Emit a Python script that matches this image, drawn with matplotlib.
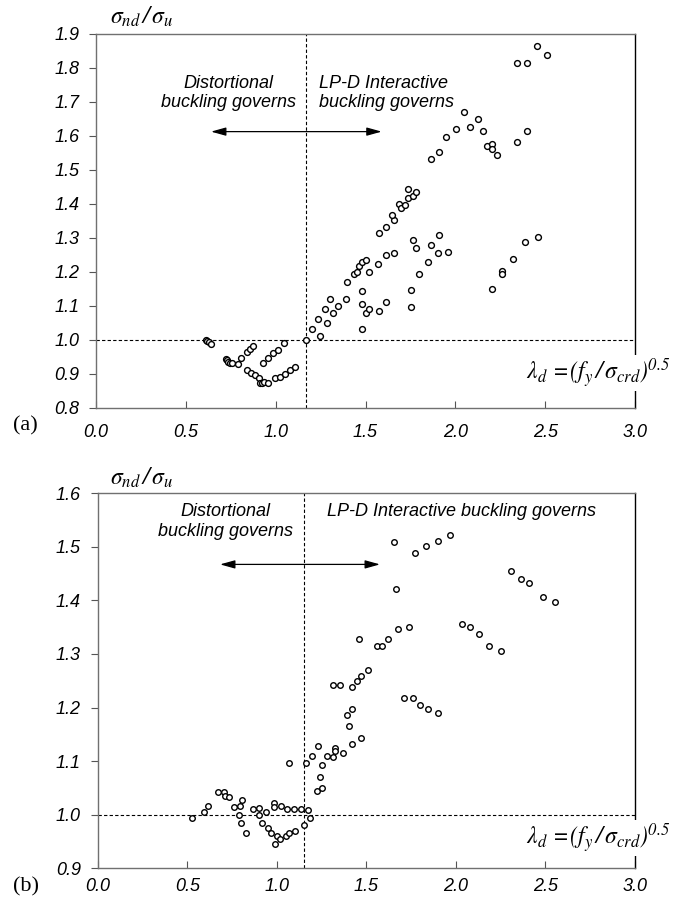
import matplotlib
matplotlib.use('Agg')
import matplotlib.pyplot as plt

plt.rcParams['font.family'] = ['Liberation Sans', 'DejaVu Sans']
plt.rcParams['font.style'] = 'italic'
plt.rcParams['mathtext.fontset'] = 'stix'

# (a) lambda_d and sigma_nd/sigma_u
a_x = [0.61, 0.62, 0.63, 0.64,
       0.723, 0.731, 0.736, 0.746, 0.759, 0.788, 0.807,
       0.838, 0.857, 0.876,
       0.838, 0.862, 0.885, 0.909, 0.913, 0.922, 0.935, 0.955,
       0.931, 0.959, 0.987, 1.015, 1.046,
       0.996, 1.024, 1.052, 1.080, 1.109,
       1.170, 1.202, 1.247, 1.237, 1.284, 1.276, 1.321, 1.348,
       1.479, 1.501, 1.479,
       1.302, 1.389, 1.399, 1.436, 1.454, 1.463, 1.482, 1.501, 1.519,
       1.482, 1.519, 1.575, 1.612, 1.568, 1.614, 1.660, 1.575, 1.614,
       1.660, 1.649, 1.688, 1.697, 1.718, 1.735, 1.735, 1.762, 1.782,
       1.753, 1.753, 1.762, 1.781, 1.799, 1.846, 1.864, 1.901, 1.910,
       1.957, 1.864, 1.910, 1.948, 2.003, 2.050, 2.080, 2.127, 2.154,
       2.178, 2.202, 2.202, 2.230, 2.341, 2.397, 2.202, 2.258, 2.258,
       2.323, 2.389, 2.458, 2.452, 2.508, 2.341, 2.397]
a_y = [0.999, 0.995, 0.992, 0.987,
       0.942, 0.940, 0.935, 0.931, 0.931, 0.928, 0.945,
       0.965, 0.972, 0.981,
       0.911, 0.903, 0.895, 0.886, 0.872, 0.872, 0.876, 0.872,
       0.932, 0.945, 0.960, 0.970, 0.991,
       0.887, 0.891, 0.899, 0.911, 0.921,
       1.000, 1.031, 1.012, 1.060, 1.050, 1.090, 1.079, 1.100,
       1.105, 1.079, 1.031,
       1.120, 1.120, 1.169, 1.193, 1.198, 1.218, 1.228, 1.235, 1.198,
       1.144, 1.090, 1.084, 1.110, 1.223, 1.249, 1.254, 1.313, 1.332,
       1.352, 1.368, 1.398, 1.386, 1.396, 1.418, 1.442, 1.423, 1.433,
       1.145, 1.095, 1.293, 1.269, 1.194, 1.229, 1.279, 1.254, 1.308,
       1.258, 1.531, 1.551, 1.595, 1.620, 1.671, 1.626, 1.650, 1.615,
       1.571, 1.576, 1.561, 1.542, 1.580, 1.615, 1.149, 1.203, 1.193,
       1.238, 1.287, 1.303, 1.864, 1.838, 1.813, 1.813]

# (b)
b_x = [0.525, 0.595, 0.618, 0.674, 0.705, 0.711, 0.733, 0.761, 0.795, 0.808,
       0.791, 0.869, 0.901, 0.901, 0.938, 0.984, 0.984, 1.022, 1.059, 1.098,
       1.133, 1.174, 1.185,
       0.80, 0.83, 0.92, 0.95, 0.97, 0.99, 1.00, 1.02, 1.05, 1.07, 1.10, 1.15,
       1.068, 1.165, 1.195, 1.232, 1.251, 1.241, 1.223, 1.251, 1.279, 1.316,
       1.325, 1.325, 1.312, 1.353, 1.418, 1.446, 1.468, 1.508, 1.420, 1.390,
       1.403, 1.468, 1.418, 1.371, 1.459, 1.561, 1.589, 1.619, 1.675, 1.740,
       1.654, 1.666, 1.770, 1.835, 1.900, 1.967, 2.306, 2.364, 2.410, 2.486,
       2.553, 2.034, 2.080, 2.129, 2.187, 2.250, 1.712, 1.759, 1.798, 1.844,
       1.900]
b_y = [0.993, 1.005, 1.017, 1.042, 1.042, 1.034, 1.033, 1.014, 1.016, 1.027,
       0.999, 1.010, 1.013, 0.999, 1.005, 1.021, 1.014, 1.017, 1.011, 1.011,
       1.011, 1.008, 0.993,
       0.985, 0.965, 0.985, 0.975, 0.965, 0.945, 0.960, 0.955, 0.960, 0.965,
       0.970, 0.980,
       1.096, 1.096, 1.110, 1.128, 1.093, 1.071, 1.045, 1.050, 1.110, 1.107,
       1.125, 1.119, 1.242, 1.242, 1.239, 1.249, 1.258, 1.270, 1.198, 1.186,
       1.166, 1.144, 1.131, 1.116, 1.328, 1.315, 1.315, 1.328, 1.347, 1.351,
       1.508, 1.422, 1.489, 1.502, 1.511, 1.521, 1.454, 1.439, 1.432, 1.407,
       1.397, 1.356, 1.351, 1.338, 1.315, 1.306, 1.217, 1.217, 1.204, 1.198,
       1.189]

a_ticks_y = [0.8, 0.9, 1.0, 1.1, 1.2, 1.3, 1.4, 1.5, 1.6, 1.7, 1.8, 1.9]
b_ticks_y = [0.9, 1.0, 1.1, 1.2, 1.3, 1.4, 1.5, 1.6]
x_ticks = [0.0, 0.5, 1.0, 1.5, 2.0, 2.5, 3.0]

fig = plt.figure(figsize=(6.77, 9.01), dpi=100)
ax1 = fig.add_axes([0.1418, 0.5475, 0.7962, 0.4151])
ax2 = fig.add_axes([0.1443, 0.0363, 0.7937, 0.4164])


def style(ax, yt, ylim, xpad):
    ax.set_xlim(0, 3)
    ax.set_ylim(*ylim)
    ax.set_xticks(x_ticks)
    ax.set_yticks(yt)
    ax.set_xticklabels(['%.1f' % v for v in x_ticks], fontsize=13)
    ax.set_yticklabels(['%.1f' % v for v in yt], fontsize=13)
    ax.tick_params(axis='x', direction='in', length=5, pad=xpad, color='#555555')
    ax.tick_params(axis='y', direction='out', length=5, pad=7, color='#555555')
    for s in ['left', 'bottom', 'top']:
        ax.spines[s].set_color('#707070')
        ax.spines[s].set_linewidth(1.0)
    ax.spines['right'].set_color('black')
    ax.spines['right'].set_linewidth(1.0)
    ax.axhline(1.0, color='black', lw=0.8, ls=(0, (3, 2)), zorder=1)


style(ax1, a_ticks_y, (0.8, 1.9), 12)
style(ax2, b_ticks_y, (0.9, 1.6), 7)

ax1.plot(a_x, a_y, 'o', mfc='white', mec='black', ms=4.2, mew=1.0, zorder=3)
ax2.plot(b_x, b_y, 'o', mfc='white', mec='black', ms=4.0, mew=1.0, zorder=3)

ax1.axvline(1.17, color='black', lw=0.8, ls=(0, (3, 2)), zorder=1)
ax2.axvline(1.15, color='black', lw=0.8, ls=(0, (3, 2)), zorder=1)

arrow = dict(arrowstyle='<|-|>,head_length=0.9,head_width=0.25', color='black', lw=0.9,
             shrinkA=0, shrinkB=0)
ax1.annotate('', xy=(0.64, 1.612), xytext=(1.59, 1.612), arrowprops=arrow)
ax2.annotate('', xy=(0.683, 1.467), xytext=(1.576, 1.467), arrowprops=arrow)

ax1.text(0.735, 1.725, 'Distortional\nbuckling governs', ha='center', va='center',
         fontsize=13, linespacing=1.2)
ax1.text(1.24, 1.725, 'LP-D Interactive\nbuckling governs', ha='left', va='center',
         fontsize=13, linespacing=1.2)
ax2.text(0.711, 1.547, 'Distortional\nbuckling governs', ha='center', va='center',
         fontsize=13, linespacing=1.2)
ax2.text(1.28, 1.566, 'LP-D Interactive buckling governs', ha='left', va='center',
         fontsize=13)

lam = r'$\lambda_d\, =\!(\mathrm{f}_y\,/\,\sigma_{crd})^{0.5}$'
sig = r'$\sigma_{nd}\,/\,\sigma_u$'
fig.text(670 / 677, 1 - 373 / 901, lam, ha='right', va='center', fontsize=17,
         style='normal', bbox=dict(facecolor='white', edgecolor='none', pad=1))
fig.text(670 / 677, 1 - 838 / 901, lam, ha='right', va='center', fontsize=17,
         style='normal', bbox=dict(facecolor='white', edgecolor='none', pad=1))
fig.text(110 / 677, 1 - 17 / 901, sig, ha='left', va='center', fontsize=17,
         style='normal')
fig.text(110 / 677, 1 - 478 / 901, sig, ha='left', va='center', fontsize=17,
         style='normal')

fig.text(13 / 677, 1 - 426 / 901, '(a)', ha='left', va='center', fontsize=16,
         family='Liberation Serif', style='normal')
fig.text(13 / 677, 1 - 887 / 901, '(b)', ha='left', va='center', fontsize=16,
         family='Liberation Serif', style='normal')

fig.savefig('out.png', dpi=100)
